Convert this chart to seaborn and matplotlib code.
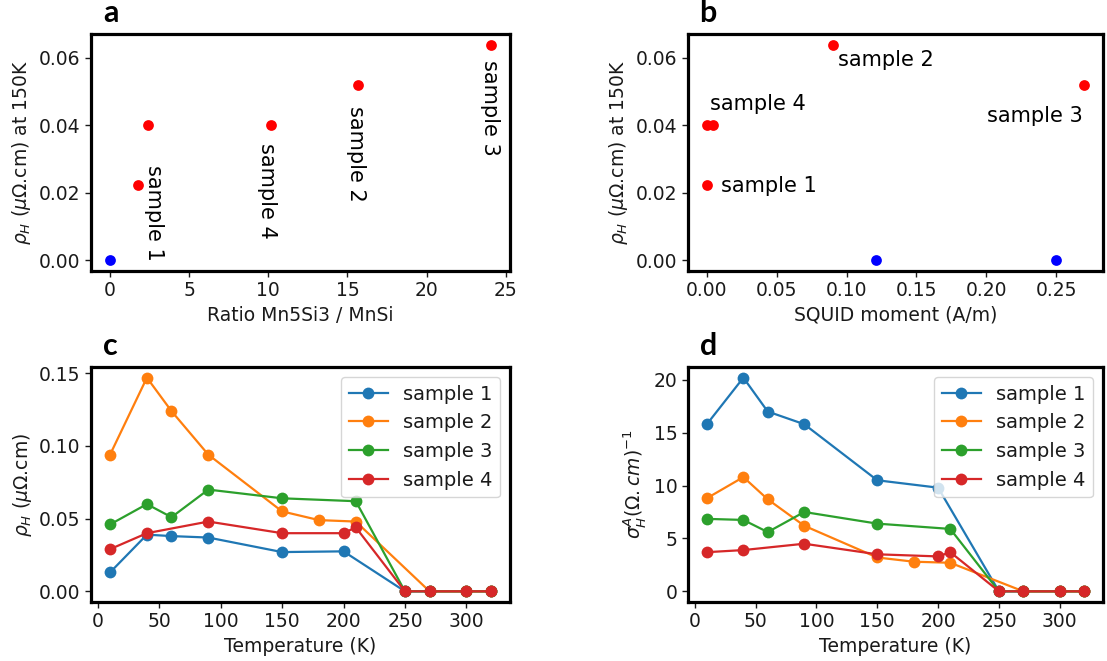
import numpy as np
import pandas as pd
import matplotlib
matplotlib.use("Agg")
import matplotlib.pyplot as plt
import seaborn as sns

# ---------------- data ----------------
# panel a: ratio Mn5Si3/MnSi vs rho_H at 150K
ratio_red = [1.74, 2.38, 10.17, 15.7, 24.07]
rho_red_a = [0.0222, 0.040, 0.040, 0.0518, 0.0638]
ratio_blue = [0.0]
rho_blue_a = [0.0]
labels_a = ["sample 1", "sample 4", "sample 2", "sample 3"]
labels_a_x = [2.75, 9.92, 15.53, 23.98]
labels_a_y = [0.0282, 0.0348, 0.0457, 0.0592]

# panel b: SQUID moment vs rho_H at 150K
squid_red = [0.0, 0.0, 0.0045, 0.090, 0.270]
rho_red_b = [0.0222, 0.040, 0.040, 0.0638, 0.0518]
squid_blue = [0.121, 0.250]
rho_blue_b = [0.0, 0.0]
labels_b = ["sample 2", "sample 4", "sample 1", "sample 3"]
labels_b_x = [0.094, 0.002, 0.010, 0.2689]
labels_b_y = [0.0594, 0.0464, 0.0221, 0.0426]
labels_b_ha = ["left", "left", "left", "right"]

# panels c and d: temperature dependence
samples = ["sample 1", "sample 2", "sample 3", "sample 4"]
temp_s1 = [10, 40, 60, 90, 150, 200, 250, 270, 300, 320]
temp_s2 = [10, 40, 60, 90, 150, 180, 210, 270, 300, 320]
temp_s3 = [10, 40, 60, 90, 150, 210, 250, 270, 300, 320]
temp_s4 = [10, 40, 90, 150, 200, 210, 250, 270, 300, 320]

rhoH_s1 = [0.013, 0.039, 0.038, 0.037, 0.027, 0.0275, 0, 0, 0, 0]
rhoH_s2 = [0.094, 0.147, 0.124, 0.094, 0.055, 0.049, 0.048, 0, 0, 0]
rhoH_s3 = [0.046, 0.060, 0.051, 0.070, 0.064, 0.062, 0, 0, 0, 0]
rhoH_s4 = [0.029, 0.040, 0.048, 0.040, 0.040, 0.044, 0, 0, 0, 0]

sigma_s1 = [15.8, 20.2, 17.0, 15.8, 10.5, 9.8, 0, 0, 0, 0]
sigma_s2 = [8.8, 10.8, 8.7, 6.2, 3.2, 2.8, 2.7, 0, 0, 0]
sigma_s3 = [6.85, 6.75, 5.6, 7.5, 6.4, 5.9, 0, 0, 0, 0]
sigma_s4 = [3.7, 3.9, 4.5, 3.5, 3.3, 3.7, 0, 0, 0, 0]

temps = [temp_s1, temp_s2, temp_s3, temp_s4]
rhos = [rhoH_s1, rhoH_s2, rhoH_s3, rhoH_s4]
sigmas = [sigma_s1, sigma_s2, sigma_s3, sigma_s4]

# ---------------- style ----------------
plt.rcParams.update({
    "font.family": ["DejaVu Sans"],
    "font.size": 13.5,
    "axes.linewidth": 2.3,
    "xtick.labelsize": 13.5,
    "ytick.labelsize": 13.5,
    "xtick.major.width": 1.0,
    "ytick.major.width": 1.0,
    "xtick.major.size": 4,
    "ytick.major.size": 4,
    "text.color": "#1a1a1a",
    "axes.labelcolor": "#1a1a1a",
    "xtick.color": "#1a1a1a",
    "ytick.color": "#1a1a1a",
    "mathtext.fontset": "dejavusans",
})

W, H = 1107, 661
fig = plt.figure(figsize=(W / 100, H / 100), dpi=100)

def px_axes(l, t, r, b):
    return fig.add_axes([l / W, 1 - b / H, (r - l) / W, (b - t) / H])

ax_a = px_axes(91, 34, 510, 271)
ax_b = px_axes(688, 34, 1103, 271)
ax_c = px_axes(91, 367, 510, 602)
ax_d = px_axes(688, 367, 1103, 602)

pal = sns.color_palette("tab10", 4)

# ---- panel a ----
sns.scatterplot(x=ratio_red, y=rho_red_a, color="red", s=60, linewidth=0, ax=ax_a)
sns.scatterplot(x=ratio_blue, y=rho_blue_a, color="blue", s=60, linewidth=0, ax=ax_a)
for t, x, y in zip(labels_a, labels_a_x, labels_a_y):
    ax_a.text(x, y, t, rotation=270, ha="center", va="top", fontsize=15, color="black")
ax_a.set_xlabel("Ratio Mn5Si3 / MnSi")
ax_a.set_ylabel(r"$\rho_H$ ($\mu\Omega$.cm) at 150K")
ax_a.set_xticks([0, 5, 10, 15, 20, 25])
ax_a.set_yticks([0.0, 0.02, 0.04, 0.06])
ax_a.yaxis.set_major_formatter(matplotlib.ticker.FormatStrFormatter("%.2f"))

# ---- panel b ----
sns.scatterplot(x=squid_red, y=rho_red_b, color="red", s=60, linewidth=0, ax=ax_b)
sns.scatterplot(x=squid_blue, y=rho_blue_b, color="blue", s=60, linewidth=0, ax=ax_b)
for t, x, y, ha in zip(labels_b, labels_b_x, labels_b_y, labels_b_ha):
    ax_b.text(x, y, t, ha=ha, va="center", fontsize=15, color="black")
ax_b.set_xlabel("SQUID moment (A/m)")
ax_b.set_ylabel(r"$\rho_H$ ($\mu\Omega$.cm) at 150K")
ax_b.set_xticks([0.0, 0.05, 0.10, 0.15, 0.20, 0.25])
ax_b.xaxis.set_major_formatter(matplotlib.ticker.FormatStrFormatter("%.2f"))
ax_b.set_yticks([0.0, 0.02, 0.04, 0.06])
ax_b.yaxis.set_major_formatter(matplotlib.ticker.FormatStrFormatter("%.2f"))

# ---- panels c, d ----
for ax, vals in ((ax_c, rhos), (ax_d, sigmas)):
    for name, tt, vv, col in zip(samples, temps, vals, pal):
        sns.lineplot(x=tt, y=vv, color=col, marker="o", markersize=8.5,
                     markeredgewidth=0, linewidth=1.6, label=name, ax=ax, sort=False)
    ax.legend(loc="upper right", fontsize=14, handlelength=2.0)
    ax.set_xlabel("Temperature (K)")
    ax.set_xticks([0, 50, 100, 150, 200, 250, 300])

ax_c.set_ylabel(r"$\rho_H$ ($\mu\Omega$.cm)")
ax_c.set_yticks([0.0, 0.05, 0.10, 0.15])
ax_c.yaxis.set_major_formatter(matplotlib.ticker.FormatStrFormatter("%.2f"))
ax_d.set_ylabel(r"$\sigma^A_H(\Omega.cm)^{-1}$")
ax_d.set_yticks([0, 5, 10, 15, 20])

for ax in (ax_a, ax_b, ax_c, ax_d):
    for sp in ax.spines.values():
        sp.set_color("black")

# panel letters
for letter, x, y in (("a", 103, 22), ("b", 699, 22), ("c", 103, 355), ("d", 700, 355)):
    fig.text(x / W, 1 - y / H, letter, fontsize=22, fontweight="bold",
             family=["Lato", "DejaVu Sans"], color="black", ha="left", va="baseline")

fig.savefig("out.png", dpi=100)
